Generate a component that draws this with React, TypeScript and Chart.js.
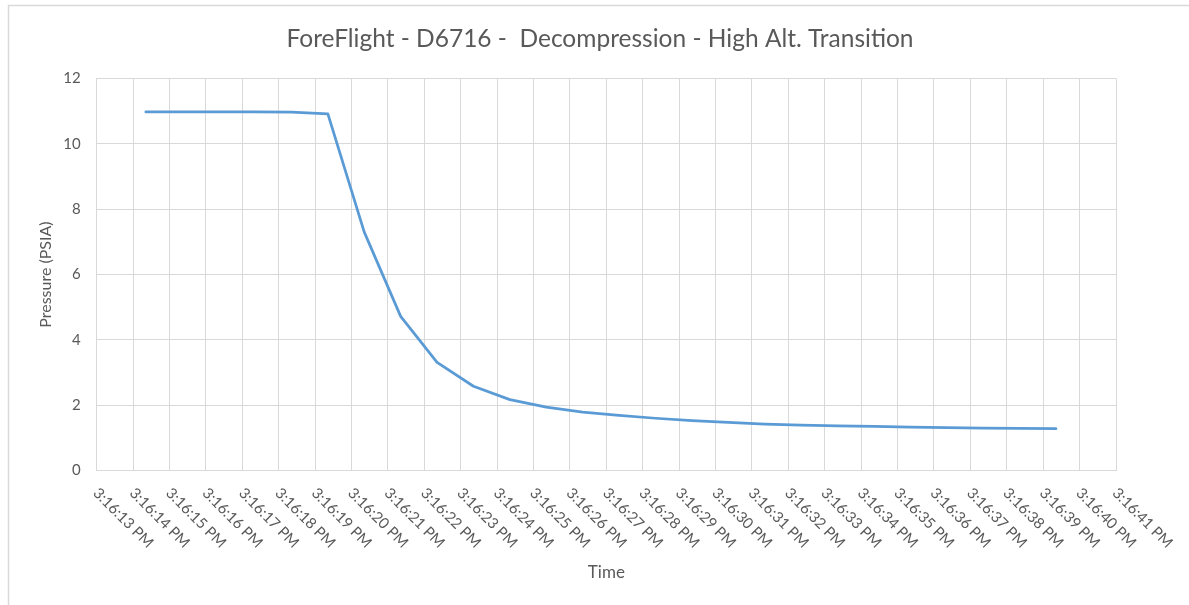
import React, { useEffect, useRef } from "react";
import { Chart, registerables } from "chart.js";

Chart.register(...registerables);

// ---- Data -------------------------------------------------------------
const chartTitle = "ForeFlight - D6716 -  Decompression - High Alt. Transition";
const xAxisTitle = "Time";
const yAxisTitle = "Pressure (PSIA)";

// seconds after 3:16:00 PM where the axis ticks / gridlines sit
const tickSeconds = [
  13, 14, 15, 16, 17, 18, 19, 20, 21, 22, 23, 24, 25, 26, 27,
  28, 29, 30, 31, 32, 33, 34, 35, 36, 37, 38, 39, 40, 41,
];
const tickLabels = [
  "3:16:13 PM", "3:16:14 PM", "3:16:15 PM", "3:16:16 PM", "3:16:17 PM",
  "3:16:18 PM", "3:16:19 PM", "3:16:20 PM", "3:16:21 PM", "3:16:22 PM",
  "3:16:23 PM", "3:16:24 PM", "3:16:25 PM", "3:16:26 PM", "3:16:27 PM",
  "3:16:28 PM", "3:16:29 PM", "3:16:30 PM", "3:16:31 PM", "3:16:32 PM",
  "3:16:33 PM", "3:16:34 PM", "3:16:35 PM", "3:16:36 PM", "3:16:37 PM",
  "3:16:38 PM", "3:16:39 PM", "3:16:40 PM", "3:16:41 PM",
];

// sample times (seconds after 3:16:00 PM)
const sampleSeconds = [
  14.35, 15.35, 16.35, 17.35, 18.35, 19.35, 20.35, 21.35, 22.35, 23.35,
  24.35, 25.35, 26.35, 27.35, 28.35, 29.35, 30.35, 31.35, 32.35, 33.35,
  34.35, 35.35, 36.35, 37.35, 38.35, 39.35,
];
const pressurePsia = [
  10.98, 10.98, 10.98, 10.98, 10.97, 10.92, 7.3, 4.72, 3.31, 2.58,
  2.17, 1.94, 1.79, 1.69, 1.6, 1.53, 1.47, 1.42, 1.39, 1.37,
  1.35, 1.33, 1.31, 1.3, 1.29, 1.28,
];

const yMin = 0;
const yMax = 12;
const yStep = 2;

// ---- Styles -----------------------------------------------------------
const W = 1189;
const H = 605;
const FONT = "Lato, 'Open Sans', sans-serif";
const TEXT = "#595959";
const GRID = "#d9d9d9";
const LINE = "#5B9BD5";

export default function App() {
  const ref = useRef<HTMLCanvasElement | null>(null);

  useEffect(() => {
    const canvas = ref.current;
    if (!canvas) return;

    const decor = {
      id: "excelDecor",
      beforeDraw(chart: any) {
        const ctx = chart.ctx;
        ctx.save();
        ctx.fillStyle = "#ffffff";
        ctx.fillRect(0, 0, W, H);
        ctx.strokeStyle = GRID;
        ctx.lineWidth = 1.5;
        ctx.beginPath();
        ctx.moveTo(8.5, H);
        ctx.lineTo(8.5, 5.5);
        ctx.lineTo(W, 5.5);
        ctx.stroke();
        ctx.restore();
      },
      afterDraw(chart: any) {
        const ctx = chart.ctx;
        const xs = chart.scales.x;
        const area = chart.chartArea;
        ctx.save();
        // chart title
        ctx.fillStyle = TEXT;
        ctx.font = `24.5px ${FONT}`;
        ctx.textAlign = "center";
        ctx.textBaseline = "middle";
        ctx.fillText(chartTitle, 600, 39);
        // rotated time labels
        ctx.font = `15px ${FONT}`;
        ctx.textAlign = "left";
        ctx.textBaseline = "middle";
        tickSeconds.forEach((s, i) => {
          const px = xs.getPixelForValue(s);
          ctx.save();
          ctx.translate(px - 1, area.bottom + 20);
          ctx.rotate(Math.PI / 4);
          ctx.fillText(tickLabels[i], 0, 0);
          ctx.restore();
        });
        ctx.restore();
      },
    };

    const chart = new Chart(canvas, {
      type: "line",
      data: {
        datasets: [
          {
            label: "Pressure",
            data: sampleSeconds.map((s, i) => ({ x: s, y: pressurePsia[i] })),
            borderColor: LINE,
            backgroundColor: LINE,
            borderWidth: 2.75,
            pointRadius: 0,
            tension: 0,
            fill: false,
            borderJoinStyle: "round",
            borderCapStyle: "round",
          },
        ],
      },
      options: {
        responsive: false,
        animation: false,
        devicePixelRatio: 1,
        layout: { padding: { left: 36, right: 73, top: 78.6, bottom: 22 } },
        plugins: {
          legend: { display: false },
          title: { display: false },
          tooltip: { enabled: false },
        },
        scales: {
          x: {
            type: "linear",
            min: tickSeconds[0],
            max: tickSeconds[tickSeconds.length - 1],
            ticks: { stepSize: 1, display: false, maxTicksLimit: 100 },
            grid: { color: GRID, lineWidth: 1, drawTicks: false },
            border: { color: GRID, width: 1 },
            title: {
              display: true,
              text: xAxisTitle,
              color: TEXT,
              font: { family: FONT, size: 17 },
              padding: 0,
            },
            afterFit: (scale: any) => {
              scale.height = 112.5;
            },
          },
          y: {
            min: yMin,
            max: yMax,
            ticks: {
              stepSize: yStep,
              color: TEXT,
              font: { family: FONT, size: 15 },
              padding: 16,
            },
            grid: { color: GRID, lineWidth: 1, drawTicks: false },
            border: { color: GRID, width: 1 },
            title: {
              display: true,
              text: yAxisTitle,
              color: TEXT,
              font: { family: FONT, size: 16 },
              padding: 0,
            },
            afterFit: (scale: any) => {
              scale.width = 60.7;
            },
          },
        },
      },
      plugins: [decor],
    });

    return () => chart.destroy();
  }, []);

  return (
    <div style={{ position: "fixed", left: 0, top: 0, width: W, height: H, background: "#fff" }}>
      <canvas ref={ref} width={W} height={H} style={{ display: "block" }} />
    </div>
  );
}
